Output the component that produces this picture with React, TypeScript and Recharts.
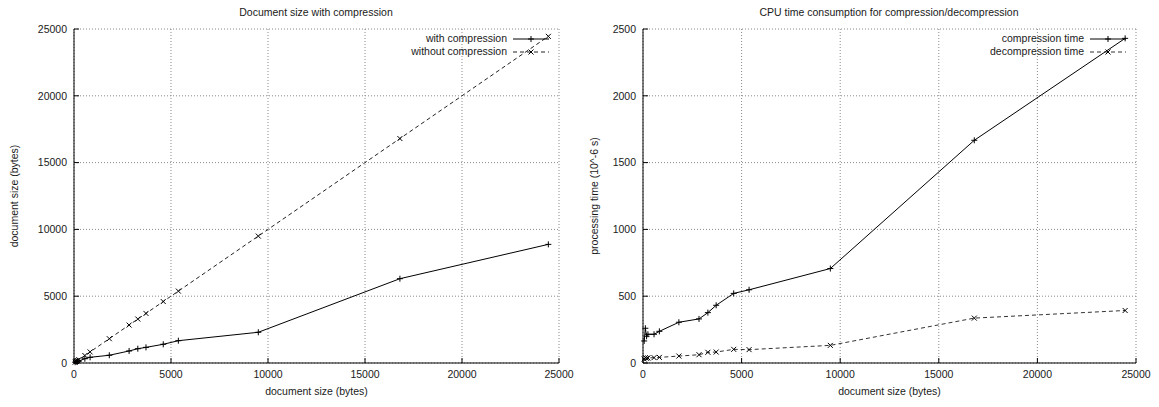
import { LineChart, Line, XAxis, YAxis, CartesianGrid, Legend } from "recharts"

// document sizes (bytes) of the measured samples
const docSize = [60, 120, 180, 250, 560, 830, 1820, 2840, 3290, 3710, 4600, 5380, 9500, 16800, 24450]
// left plot: resulting size
const withCompression = [60, 100, 130, 150, 320, 426, 580, 900, 1070, 1170, 1400, 1670, 2300, 6310, 8880]
const withoutCompression = [60, 120, 180, 250, 560, 830, 1820, 2840, 3290, 3710, 4600, 5380, 9500, 16800, 24450]
// right plot: cpu time (10^-6 s)
const compressionTime = [165, 260, 200, 215, 215, 237, 305, 330, 377, 432, 521, 548, 707, 1667, 2430]
const decompressionTime = [30, 40, 35, 38, 40, 42, 52, 62, 80, 82, 102, 100, 132, 336, 393]

const xTicks = [0, 5000, 10000, 15000, 20000, 25000]
const sizeTicks = [0, 5000, 10000, 15000, 20000, 25000]
const timeTicks = [0, 500, 1000, 1500, 2000, 2500]

const FONT = "'Liberation Sans', Arial, Helvetica, sans-serif"
const TXT = "#1a1a1a"
const tickStyle = { fontSize: 10.5, fill: TXT, fontFamily: FONT }

const sizeData = docSize.map((s, i) => ({ size: s, withC: withCompression[i], withoutC: withoutCompression[i] }))
const timeData = docSize.map((s, i) => ({ size: s, comp: compressionTime[i], decomp: decompressionTime[i] }))

const MARKS: Record<string, "plus" | "cross"> = { withC: "plus", withoutC: "cross", comp: "plus", decomp: "cross" }

function markPath(kind: "plus" | "cross", cx: number, cy: number) {
  if (kind === "plus") return `M${cx - 3},${cy}h6M${cx},${cy - 3}v6`
  return `M${cx - 2.5},${cy - 2.5}l5,5M${cx - 2.5},${cy + 2.5}l5,-5`
}

const dotFor = (kind: "plus" | "cross") => (p: any) => {
  const { cx, cy, index } = p
  return <path key={`${kind}${index}`} d={markPath(kind, cx, cy)} stroke="#000" strokeWidth={1} fill="none" />
}

function KeyBox(props: any) {
  const items = props.payload || []
  return (
    <div style={{ display: "flex", flexDirection: "column", alignItems: "flex-end", fontFamily: FONT, fontSize: 10.5, color: TXT }}>
      {items.map((e: any) => {
        const dash = e.payload?.strokeDasharray
        const kind = MARKS[e.dataKey] || "plus"
        return (
          <div key={e.dataKey} style={{ display: "flex", alignItems: "center", height: 13.4, lineHeight: "13.4px" }}>
            <span>{e.value}</span>
            <svg width={36} height={10} style={{ marginLeft: 6, display: "block" }}>
              <line x1={0} y1={5} x2={36} y2={5} stroke={e.payload?.stroke} strokeWidth={1} strokeDasharray={dash} />
              <path d={markPath(kind, 18, 5)} stroke="#000" fill="none" />
            </svg>
          </div>
        )
      })}
    </div>
  )
}

interface PanelProps {
  data: any[]
  yTicks: number[]
  yMax: number
  yLabel: string
  yAxisWidth: number
  width: number
  rightMargin: number
  series: { key: string; name: string; dash?: string; stroke: string }[]
  legendLeft: number
}

function Panel({ data, yTicks, yMax, yLabel, yAxisWidth, width, rightMargin, series, legendLeft }: PanelProps) {
  return (
    <LineChart width={width} height={407} data={data} margin={{ top: 29, right: rightMargin, left: 0, bottom: 0 }}>
      <CartesianGrid stroke="#8a8a8a" strokeDasharray="1 2" />
      <XAxis
        dataKey="size"
        type="number"
        domain={[0, 25000]}
        ticks={xTicks}
        interval={0}
        height={44}
        tick={tickStyle}
        tickSize={-5}
        tickMargin={13}
        axisLine={{ stroke: "#000" }}
        tickLine={{ stroke: "#000" }}
        label={{ value: "document size (bytes)", position: "insideBottom", offset: 12, style: { fontSize: 10.5, fill: TXT, fontFamily: FONT } }}
      />
      <XAxis
        xAxisId="top"
        orientation="top"
        dataKey="size"
        type="number"
        domain={[0, 25000]}
        ticks={xTicks}
        interval={0}
        height={0}
        tick={false}
        tickSize={-5}
        axisLine={{ stroke: "#000" }}
        tickLine={{ stroke: "#000" }}
      />
      <YAxis
        type="number"
        domain={[0, yMax]}
        ticks={yTicks}
        interval={0}
        width={yAxisWidth}
        tick={tickStyle}
        tickSize={-5}
        tickMargin={12}
        axisLine={{ stroke: "#000" }}
        tickLine={{ stroke: "#000" }}
        label={{
          value: yLabel,
          angle: -90,
          position: "insideLeft",
          offset: 14,
          textAnchor: "middle",
          style: { textAnchor: "middle", fontSize: 10.5, fill: TXT, fontFamily: FONT },
        }}
      />
      <YAxis
        yAxisId="right"
        orientation="right"
        type="number"
        domain={[0, yMax]}
        ticks={yTicks}
        interval={0}
        width={0}
        tick={false}
        tickSize={-5}
        axisLine={{ stroke: "#000" }}
        tickLine={{ stroke: "#000" }}
      />
      <Legend
        layout="horizontal"
        verticalAlign="middle"
        align="center"
        content={KeyBox}
        wrapperStyle={{ left: legendLeft, top: 32, width: 250, height: 28 }}
      />
      {series.map((s) => (
        <Line
          key={s.key}
          dataKey={s.key}
          name={s.name}
          stroke={s.stroke}
          strokeWidth={1}
          strokeDasharray={s.dash}
          dot={dotFor(MARKS[s.key])}
          activeDot={false}
          isAnimationActive={false}
        />
      ))}
    </LineChart>
  )
}

const titleStyle = {
  position: "absolute" as const,
  top: 5,
  width: 400,
  height: 15,
  lineHeight: "15px",
  textAlign: "center" as const,
  fontFamily: FONT,
  fontSize: 10.5,
  color: TXT,
}

export default function App() {
  return (
    <div style={{ position: "absolute", left: 0, top: 0, width: 1159, height: 407, background: "#fff" }}>
      <div style={{ position: "absolute", left: 0, top: 0 }}>
        <Panel
          data={sizeData}
          yTicks={sizeTicks}
          yMax={25000}
          yLabel="document size (bytes)"
          yAxisWidth={74}
          width={580}
          rightMargin={21}
          legendLeft={299}
          series={[
            { key: "withC", name: "with compression", stroke: "#000" },
            { key: "withoutC", name: "without compression", stroke: "#222", dash: "4 3" },
          ]}
        />
      </div>
      <div style={{ position: "absolute", left: 580, top: 0 }}>
        <Panel
          data={timeData}
          yTicks={timeTicks}
          yMax={2500}
          yLabel="processing time (10^-6 s)"
          yAxisWidth={63}
          width={579}
          rightMargin={23}
          legendLeft={296}
          series={[
            { key: "comp", name: "compression time", stroke: "#000" },
            { key: "decomp", name: "decompression time", stroke: "#333", dash: "4 3" },
          ]}
        />
      </div>
      <div style={{ ...titleStyle, left: 316 - 200 }}>Document size with compression</div>
      <div style={{ ...titleStyle, left: 889 - 200 }}>CPU time consumption for compression/decompression</div>
    </div>
  )
}
